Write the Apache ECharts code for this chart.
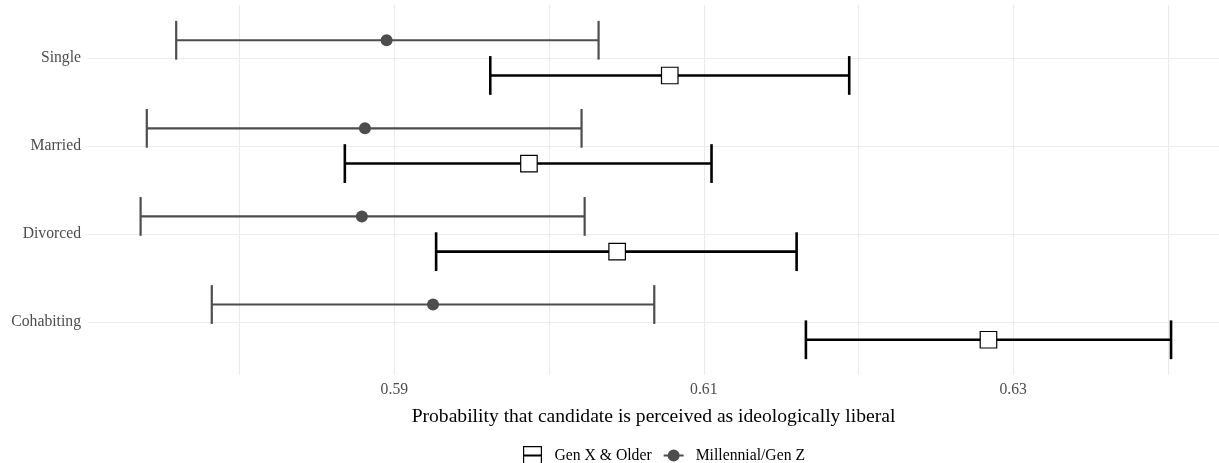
<!DOCTYPE html>
<html>
<head>
<meta charset="utf-8">
<script src="https://cdn.jsdelivr.net/npm/echarts@6/dist/echarts.min.js"></script>
<style>
  html, body { margin: 0; padding: 0; background: #fff; }
  #chart { width: 1219px; height: 463px; }
</style>
</head>
<body>
<div id="chart"></div>
<script>
// categories listed top to bottom
const categories = ['Single', 'Married', 'Divorced', 'Cohabiting']

// Millennial/Gen Z
const millEst = [0.5895, 0.5881, 0.5879, 0.5925]
const millLow = [0.5759, 0.5740, 0.5736, 0.5782]
const millHigh = [0.6032, 0.6021, 0.6023, 0.6068]

// Gen X & Older
const genxEst = [0.6078, 0.5987, 0.6044, 0.6284]
const genxLow = [0.5962, 0.5868, 0.5927, 0.6166]
const genxHigh = [0.6194, 0.6105, 0.6160, 0.6402]

const xLabelTicks = [0.59, 0.61, 0.63]
const xGridTicks = [0.58, 0.59, 0.60, 0.61, 0.62, 0.63, 0.64]

const FONT = 'Liberation Serif'
const n = categories.length

// y position of each category on the value axis (top row = highest)
const catPos = categories.map((c, i) => n - i)

function rows(low, est, high) {
  return categories.map((c, i) => [low[i], est[i], high[i], catPos[i]])
}

// error bar + marker, dodged up/down around the category line
function makeRender(dodge, color, lineW, marker) {
  return function (params, api) {
    const y = api.value(3) + dodge
    const lo = api.coord([api.value(0), y])
    const mid = api.coord([api.value(1), y])
    const hi = api.coord([api.value(2), y])
    const half = api.size([0, 0.22])[1]
    const lineStyle = { stroke: color, lineWidth: lineW }
    const children = [
      { type: 'line', shape: { x1: lo[0], y1: lo[1], x2: hi[0], y2: hi[1] }, style: lineStyle },
      { type: 'line', shape: { x1: lo[0], y1: lo[1] - half, x2: lo[0], y2: lo[1] + half }, style: lineStyle },
      { type: 'line', shape: { x1: hi[0], y1: hi[1] - half, x2: hi[0], y2: hi[1] + half }, style: lineStyle }
    ]
    if (marker === 'square') {
      const s = 16.5
      children.push({
        type: 'rect',
        shape: { x: mid[0] - s / 2, y: mid[1] - s / 2, width: s, height: s },
        style: { fill: '#fff', stroke: '#000', lineWidth: 1.2 }
      })
    } else {
      children.push({
        type: 'circle',
        shape: { cx: mid[0], cy: mid[1], r: 6 },
        style: { fill: color }
      })
    }
    return { type: 'group', children: children }
  }
}

const chart = echarts.init(document.getElementById('chart'))

const option = {
  backgroundColor: '#fff',
  animation: false,
  textStyle: { fontFamily: FONT },
  grid: {
    left: 88,
    right: 0,
    top: 5,
    bottom: 88,
    containLabel: false,
    outerBoundsMode: 'none'
  },
  legend: {
    left: 518,
    top: 441,
    itemGap: 12,
    itemWidth: 20,
    itemHeight: 19,
    textStyle: { fontFamily: FONT, fontSize: 15.7, color: '#000', padding: [0, 0, 0, 7] },
    data: [
      {
        name: 'Gen X & Older',
        icon: 'path://M0,0H19V19H0Z M1.2,1.2V17.8H17.8V1.2Z M0,8.5H19V10.5H0Z',
        itemStyle: { color: '#000', borderWidth: 0 }
      },
      {
        name: 'Millennial/Gen Z',
        icon: 'path://M0,8.5H20V10.5H0Z M10,3.5A6,6 0 1,1 10,15.5A6,6 0 1,1 10,3.5Z',
        itemStyle: { color: '#4d4d4d', borderWidth: 0 }
      }
    ]
  },
  xAxis: {
    type: 'value',
    min: 0.5702,
    max: 0.6433,
    name: 'Probability that candidate is perceived as ideologically liberal',
    nameLocation: 'middle',
    nameGap: 32,
    nameTextStyle: { fontFamily: FONT, fontSize: 19.6, color: '#000' },
    axisLine: { show: false },
    axisTick: { show: false, customValues: xGridTicks },
    axisLabel: {
      customValues: xLabelTicks,
      formatter: v => v.toFixed(2),
      fontFamily: FONT,
      fontSize: 15.7,
      color: '#4d4d4d',
      margin: 7
    },
    splitLine: { show: true, lineStyle: { color: '#ebebeb', width: 1.1 } }
  },
  yAxis: {
    type: 'value',
    min: 0.4,
    max: n + 0.6,
    axisLine: { show: false },
    axisTick: { show: false, customValues: catPos },
    axisLabel: {
      customValues: catPos,
      formatter: v => categories[n - Math.round(v)],
      fontFamily: FONT,
      fontSize: 15.7,
      color: '#4d4d4d',
      margin: 7
    },
    splitLine: { show: true, lineStyle: { color: '#ebebeb', width: 1.1 } }
  },
  series: [
    {
      name: 'Millennial/Gen Z',
      type: 'custom',
      itemStyle: { color: '#4d4d4d' },
      renderItem: makeRender(0.2, '#4d4d4d', 2.2, 'circle'),
      encode: { x: [0, 1, 2], y: 3 },
      data: rows(millLow, millEst, millHigh)
    },
    {
      name: 'Gen X & Older',
      type: 'custom',
      itemStyle: { color: '#000' },
      renderItem: makeRender(-0.2, '#000', 2.6, 'square'),
      encode: { x: [0, 1, 2], y: 3 },
      data: rows(genxLow, genxEst, genxHigh)
    }
  ]
}

chart.setOption(option)
</script>
</body>
</html>
